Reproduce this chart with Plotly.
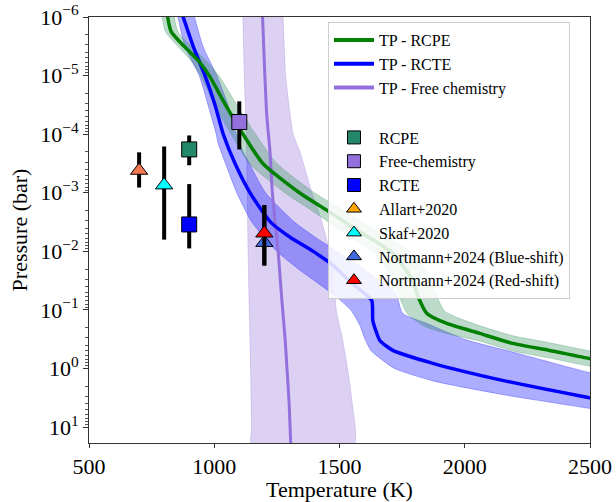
import plotly.graph_objects as go

# ---------------- data ----------------
# TP profiles: temperature (K) vs log10 pressure (bar)
rcpe_logp = [-6.1, -5.75, -5.5, -5.25, -5.0, -4.5, -4.0, -3.5, -3.0, -2.7, -2.3, -1.97, -1.5, -1.28, -0.94, -0.77, -0.6, -0.43, -0.31, -0.17, -0.1]
rcpe_T = [810, 828, 880, 937, 980, 1045, 1115, 1194, 1340, 1450, 1593, 1713, 1793, 1809, 1849, 1928, 2060, 2192, 2339, 2499, 2600]
rcpe_hot_logp = [-6.1, -5.75, -5.5, -5.25, -5.0, -4.5, -4.0, -3.5, -3.0, -2.7, -2.3, -1.97, -1.5, -1.28, -0.98, -0.84, -0.73, -0.56, -0.44, -0.30, -0.2]
rcpe_hot_T = [836, 855, 908, 968, 1018, 1090, 1165, 1250, 1400, 1515, 1665, 1790, 1868, 1884, 1920, 1990, 2060, 2192, 2339, 2499, 2620]
rcpe_cold_logp = [-6.1, -5.75, -5.5, -5.25, -5.0, -4.5, -4.0, -3.5, -3.0, -2.7, -2.3, -1.97, -1.5, -1.28, -0.94, -0.72, -0.6, -0.47, -0.30, -0.18, -0.04, 0.05]
rcpe_cold_T = [788, 805, 855, 908, 945, 1002, 1068, 1140, 1282, 1388, 1525, 1640, 1718, 1734, 1770, 1840, 1928, 2060, 2192, 2339, 2499, 2620]

rcte_logp = [-6.1, -5.5, -5.0, -4.5, -4.0, -3.5, -3.0, -2.5, -2.25, -2.0, -1.75, -1.5, -1.3, -1.16, -0.82, -0.6, -0.48, -0.31, -0.09, 0.21, 0.50, 0.6]
rcte_T = [868, 916, 963, 1003, 1036, 1083, 1143, 1225, 1300, 1395, 1478, 1538, 1595, 1629, 1633, 1649, 1661, 1713, 1873, 2160, 2499, 2620]
rcte_hot_logp = [-6.1, -5.5, -5.0, -4.5, -4.0, -3.75, -3.5, -3.0, -2.5, -2.25, -2.0, -1.75, -1.5, -1.35, -1.2, -0.94, -0.77, -0.5, -0.25, 0.07, 0.15]
rcte_hot_T = [915, 955, 1010, 1055, 1088, 1110, 1140, 1205, 1320, 1400, 1490, 1580, 1660, 1715, 1732, 1753, 1849, 2000, 2220, 2500, 2600]
rcte_cold_logp = [-6.1, -5.5, -5.0, -4.5, -4.0, -3.85, -3.5, -3.0, -2.5, -2.0, -1.68, -1.5, -1.25, -1.0, -0.75, -0.5, -0.31, -0.14, 0.0, 0.21, 0.45, 0.68, 0.75]
rcte_cold_T = [850, 883, 940, 975, 1008, 1015, 1045, 1090, 1150, 1250, 1342, 1400, 1480, 1545, 1580, 1602, 1625, 1673, 1720, 1873, 2160, 2499, 2600]

free_logp = [-6.1, -5.0, -4.3, -3.73, -3.0, -2.5, -2.0, -1.5, -1.16, -0.5, -0.02, 0.6, 1.35]
free_T = [1192, 1202, 1210, 1222, 1232, 1243, 1255, 1264, 1270, 1283, 1290, 1299, 1306]
free_hot_logp = [-6.1, -5.0, -4.5, -4.0, -3.7, -3.0, -2.5, -2.0, -1.5, -1.0, -0.5, 0.0, 0.5, 1.35]
free_hot_T = [1274, 1285, 1298, 1315, 1342, 1390, 1430, 1460, 1478, 1487, 1512, 1532, 1548, 1556]
free_cold_logp = [-6.1, -5.0, -4.0, -3.0, -2.0, -1.0, 0.0, 1.0, 1.35]
free_cold_T = [1114, 1120, 1128, 1132, 1135, 1140, 1145, 1149, 1150]

# Measurements: temperature (K), pressure (bar), lower / upper pressure bounds
point_names = ["RCPE", "Free-chemistry", "RCTE", "Allart+2020", "Skaf+2020",
               "Nortmann+2024 (Blue-shift)", "Nortmann+2024 (Red-shift)"]
point_T = [900, 1100, 900, 700, 800, 1200, 1200]
point_P = [1.82e-4, 6.2e-5, 3.47e-3, 4.17e-4, 7.4e-4, 7.1e-3, 4.9e-3]
point_P_lo = [1.05e-4, 2.75e-5, 7.1e-4, 2.04e-4, 1.62e-4, 1.62e-3, 1.62e-3]
point_P_hi = [3.39e-4, 1.82e-4, 8.9e-3, 8.13e-4, 6.3e-3, 1.74e-2, 1.74e-2]
point_symbols = ["square", "square", "square", "triangle-up", "triangle-up", "triangle-up", "triangle-up"]
point_colors = ["#23876a", "#9370db", "#0000ff", "#f4784f", "#00ffff", "#4169e1", "#ff0000"]
legend_colors = ["#23876a", "#9370db", "#0000ff", "#ffa500", "#00ffff", "#4169e1", "#ff0000"]

x_ticks = [500, 1000, 1500, 2000, 2500]
y_tick_exps = [-6, -5, -4, -3, -2, -1, 0, 1]

FONT = "Liberation Serif"


def P(logs):
    return [10 ** v for v in logs]


fig = go.Figure()

# bands
bands = [
    (free_hot_T, free_hot_logp, free_cold_T, free_cold_logp, "rgba(147,112,219,0.32)", "rgba(147,112,219,0.35)"),
    (rcte_hot_T, rcte_hot_logp, rcte_cold_T, rcte_cold_logp, "rgba(0,0,255,0.32)", "rgba(0,0,255,0.35)"),
    (rcpe_hot_T, rcpe_hot_logp, rcpe_cold_T, rcpe_cold_logp, "rgba(46,139,87,0.32)", "rgba(46,139,87,0.35)"),
]
for hT, hl, cT, cl, fc, lc in bands:
    fig.add_trace(go.Scatter(
        x=list(hT) + list(cT)[::-1], y=P(hl) + P(cl)[::-1],
        fill="toself", fillcolor=fc, mode="lines",
        line=dict(color=lc, width=0.8, shape="spline", smoothing=0.6),
        showlegend=False, hoverinfo="skip"))

# lines
fig.add_trace(go.Scatter(x=free_T, y=P(free_logp), mode="lines",
                         line=dict(color="#9370db", width=3, shape="spline", smoothing=0.6),
                         showlegend=False, hoverinfo="skip"))
fig.add_trace(go.Scatter(x=rcte_T, y=P(rcte_logp), mode="lines",
                         line=dict(color="#0000ff", width=3.5, shape="spline", smoothing=0.6),
                         showlegend=False, hoverinfo="skip"))
fig.add_trace(go.Scatter(x=rcpe_T, y=P(rcpe_logp), mode="lines",
                         line=dict(color="#008000", width=3.5, shape="spline", smoothing=0.6),
                         showlegend=False, hoverinfo="skip"))

# legend entries for lines
for nm, col in [("TP - RCPE", "#008000"), ("TP - RCTE", "#0000ff"), ("TP - Free chemistry", "#9370db")]:
    fig.add_trace(go.Scatter(x=[None], y=[None], mode="lines", line=dict(color=col, width=4),
                             name=nm, legendgroup="lines"))

# points with error bars
for i in range(len(point_names)):
    fig.add_trace(go.Scatter(
        x=[point_T[i]], y=[point_P[i]], mode="markers",
        marker=dict(symbol=point_symbols[i], size=15, color=point_colors[i],
                    line=dict(color="black", width=1)),
        error_y=dict(type="data", symmetric=False,
                     array=[point_P_hi[i] - point_P[i]],
                     arrayminus=[point_P[i] - point_P_lo[i]],
                     thickness=4, width=0, color="black"),
        showlegend=False, hoverinfo="skip"))

# legend entries for points
for i in range(len(point_names)):
    fig.add_trace(go.Scatter(
        x=[None], y=[None], mode="markers", name=point_names[i], legendgroup="points",
        marker=dict(symbol=point_symbols[i], size=13, color=legend_colors[i],
                    line=dict(color="black", width=1))))

fig.update_layout(
    width=616, height=502,
    margin=dict(l=89, r=26, t=17, b=59, autoexpand=False),
    paper_bgcolor="white", plot_bgcolor="white",
    font=dict(family=FONT, size=16, color="black"),
    legend=dict(x=0.477, y=0.988, xanchor="left", yanchor="top",
                bgcolor="rgba(255,255,255,0.85)", bordercolor="#cccccc", borderwidth=1,
                font=dict(family=FONT, size=16), tracegroupgap=26, itemwidth=40,
                traceorder="grouped"),
    xaxis=dict(range=[500, 2500], tickvals=x_ticks, ticktext=[str(v) for v in x_ticks],
               automargin=False,
               ticks="outside", ticklen=4, tickcolor="#333", showline=True, linecolor="#333",
               linewidth=1, mirror=True, showgrid=False, zeroline=False,
               tickfont=dict(family=FONT, size=22),
               title=dict(text="Temperature (K)", font=dict(family=FONT, size=22), standoff=7)),
    yaxis=dict(type="log", range=[1.27, -6.0],
               automargin=False,
               tickvals=[10 ** e for e in y_tick_exps],
               ticktext=["10<sup>%s</sup>" % (str(e).replace("-", "\u2212")) for e in y_tick_exps],
               ticks="outside", ticklen=5, tickcolor="#333", showline=True, linecolor="#333",
               linewidth=1, mirror=True, showgrid=False, zeroline=False,
               minor=dict(ticks="outside", ticklen=3, tickcolor="#555", dtick="D1", showgrid=False),
               tickfont=dict(family=FONT, size=22),
               title=dict(text="Pressure (bar)", font=dict(family=FONT, size=22), standoff=6)),
)

fig.write_html("out.html", config={"displayModeBar": False},
               post_script="document.body.style.margin='0';document.body.style.overflow='hidden';")
